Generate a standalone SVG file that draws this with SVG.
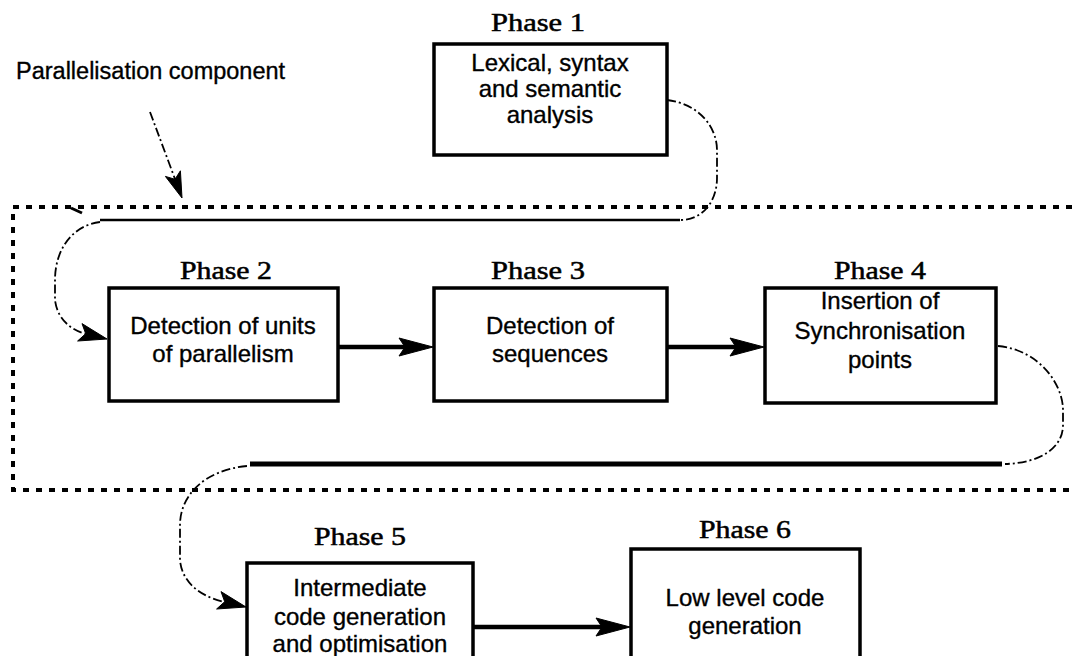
<svg xmlns="http://www.w3.org/2000/svg" width="1072" height="656" viewBox="0 0 1072 656">
  <style>
    .box { fill: #ffffff; stroke: #000000; stroke-width: 3.5; }
    .body { font-family: "Liberation Sans", Arial, sans-serif; font-size: 24px; fill: #000000; stroke: #000000; stroke-width: 0.35; text-anchor: middle; }
    .phase { font-family: "Liberation Serif", "Times New Roman", serif; font-size: 25px; fill: #000000; stroke: #000000; stroke-width: 0.5; text-anchor: middle; }
    .note { font-family: "Liberation Sans", Arial, sans-serif; font-size: 23.5px; fill: #000000; stroke: #000000; stroke-width: 0.35; }
    .flow { fill: none; stroke: #000000; stroke-width: 4.5; }
    .loop { fill: none; stroke: #000000; stroke-width: 1.8; stroke-dasharray: 9 3 2 3; }
    .track { fill: none; stroke: #000000; }
    .bound { fill: none; stroke: #000000; stroke-width: 4; stroke-dasharray: 6 7; }
    .tip { fill: #000000; stroke: #000000; stroke-width: 1; stroke-linejoin: miter; }
  </style>

  <!-- parallelisation component boundary (open on the right) -->
  <g id="component-boundary">
    <path class="bound" d="M1072,207 L13,207 L13,490 L1072,490"/>
    <text class="note" x="16" y="79">Parallelisation component</text>
  </g>

  <g id="connectors">
    <!-- pointer from the component label to its boundary -->
    <path class="loop" d="M150,112 L175,179"/>
    <path class="tip" d="M182,198 L165.4,176.4 L175,179.3 L180.4,170.8 z"/>
    <!-- phase 1 into the component -->
    <path class="loop" d="M667,100 C700,104 717,128 717,150 L717,178 C717,200 704,220 680,220"/>
    <line class="track" x1="680" y1="220" x2="100" y2="220" stroke-width="2.5"/>
    <line class="track" x1="71" y1="208" x2="82" y2="213" stroke-width="3"/>
    <path class="loop" d="M100,222 C70,226 55,252 55,280 L55,300 C57,318 70,330 86,334"/>
    <path class="tip" d="M107,339 L77.6,341 L85.7,333.7 L82,323.6 z"/>
    <!-- sequential flow inside the component -->
    <line class="flow" x1="338" y1="347" x2="405" y2="347"/>
    <path class="tip" d="M433,347 L399,338 L405,347 L399,356 z"/>
    <line class="flow" x1="667" y1="347" x2="736" y2="347"/>
    <path class="tip" d="M764,347 L730,338 L736,347 L730,356 z"/>
    <!-- phase 4 out of the component -->
    <path class="loop" d="M998,346 C1040,350 1063,385 1063,410 L1063,425 C1063,448 1040,463 1005,464"/>
    <line class="track" x1="1002" y1="464" x2="250" y2="464" stroke-width="5"/>
    <path class="loop" d="M247,466 C205,470 180,495 180,525 L180,560 C182,585 205,598 225,602"/>
    <path class="tip" d="M246,607 L216.6,609 L224.7,601.7 L221,591.6 z"/>
    <!-- phase 5 to phase 6 -->
    <line class="flow" x1="473" y1="627" x2="602" y2="627"/>
    <path class="tip" d="M630,627 L596,618 L602,627 L596,636 z"/>
  </g>

  <g id="phase1">
    <text class="phase" x="538" y="31" textLength="94" lengthAdjust="spacingAndGlyphs">Phase 1</text>
    <rect class="box" x="434" y="44" width="233" height="111"/>
    <text class="body" x="550" y="71">Lexical, syntax</text>
    <text class="body" x="550" y="97">and semantic</text>
    <text class="body" x="550" y="123">analysis</text>
  </g>

  <g id="phase2">
    <text class="phase" x="226" y="279" textLength="92" lengthAdjust="spacingAndGlyphs">Phase 2</text>
    <rect class="box" x="109" y="288" width="229" height="113"/>
    <text class="body" x="223" y="334">Detection of units</text>
    <text class="body" x="223" y="362">of parallelism</text>
  </g>

  <g id="phase3">
    <text class="phase" x="538" y="279" textLength="94" lengthAdjust="spacingAndGlyphs">Phase 3</text>
    <rect class="box" x="434" y="288" width="233" height="113"/>
    <text class="body" x="550" y="334">Detection of</text>
    <text class="body" x="550" y="362">sequences</text>
  </g>

  <g id="phase4">
    <text class="phase" x="880" y="279" textLength="92" lengthAdjust="spacingAndGlyphs">Phase 4</text>
    <rect class="box" x="765" y="288" width="231" height="115"/>
    <text class="body" x="880" y="309">Insertion of</text>
    <text class="body" x="880" y="339">Synchronisation</text>
    <text class="body" x="880" y="368">points</text>
  </g>

  <g id="phase5">
    <text class="phase" x="360" y="545" textLength="92" lengthAdjust="spacingAndGlyphs">Phase 5</text>
    <rect class="box" x="247" y="563" width="226" height="110"/>
    <text class="body" x="360" y="596">Intermediate</text>
    <text class="body" x="360" y="625">code generation</text>
    <text class="body" x="360" y="652">and optimisation</text>
  </g>

  <g id="phase6">
    <text class="phase" x="745" y="538" textLength="92" lengthAdjust="spacingAndGlyphs">Phase 6</text>
    <rect class="box" x="631" y="549" width="229" height="120"/>
    <text class="body" x="745" y="606">Low level code</text>
    <text class="body" x="745" y="634">generation</text>
  </g>
</svg>
